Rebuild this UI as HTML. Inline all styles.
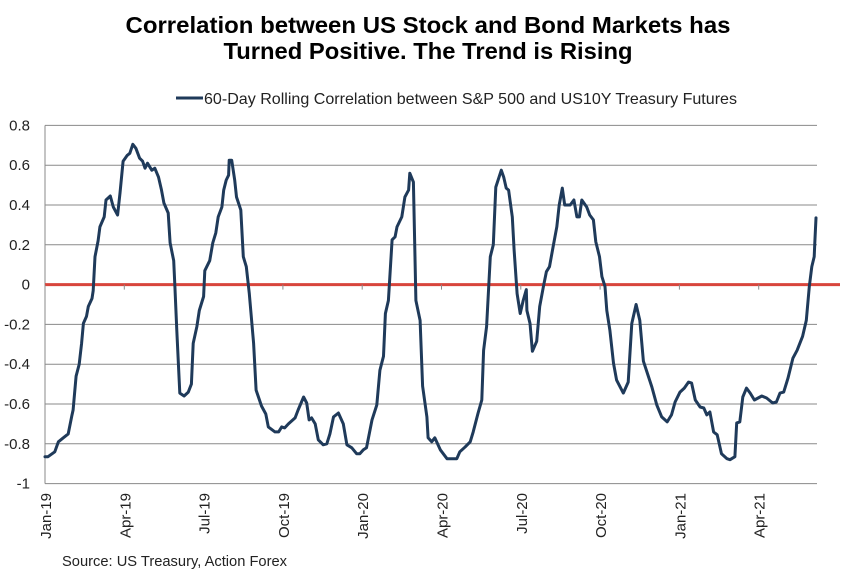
<!DOCTYPE html>
<html><head><meta charset="utf-8">
<style>
html,body{margin:0;padding:0;background:#fff;}
body{width:855px;height:576px;overflow:hidden;font-family:"Liberation Sans",Arial,sans-serif;}
svg text{font-family:"Liberation Sans",Arial,sans-serif;}
</style></head>
<body>
<svg id="chart" width="855" height="576" viewBox="0 0 855 576" xmlns="http://www.w3.org/2000/svg">
<text x="428" y="33" text-anchor="middle" font-size="23" font-weight="bold" fill="#000" textLength="605" lengthAdjust="spacingAndGlyphs">Correlation between US Stock and Bond Markets has</text>
<text x="428" y="59" text-anchor="middle" font-size="23" font-weight="bold" fill="#000" textLength="409" lengthAdjust="spacingAndGlyphs">Turned Positive. The Trend is Rising</text>
<g>
<line x1="176" y1="98" x2="203" y2="98" stroke="#1f3a5a" stroke-width="3"/>
<text x="204" y="104" font-size="16" fill="#222" textLength="533" lengthAdjust="spacingAndGlyphs">60-Day Rolling Correlation between S&amp;P 500 and US10Y Treasury Futures</text>
</g>
<g id="grid"></g>
<g id="axes"></g>
<g id="series"></g>
<text x="62" y="566" font-size="15" fill="#222" textLength="225" lengthAdjust="spacingAndGlyphs">Source: US Treasury, Action Forex</text>
</svg>
<script>
const yTicks = [0.8,0.6,0.4,0.2,0,-0.2,-0.4,-0.6,-0.8,-1];
const yTickLabels = ["0.8","0.6","0.4","0.2","0","-0.2","-0.4","-0.6","-0.8","-1"];
const xTickWeeks = [0,13,26,39,52,65,78,91,104,117];
const xTickLabels = ["Jan-19","Apr-19","Jul-19","Oct-19","Jan-20","Apr-20","Jul-20","Oct-20","Jan-21","Apr-21"];
const weeks = [0,0.5,1.6,2.2,3,3.8,4.4,4.6,5.1,5.6,6.0,6.3,6.8,7.1,7.7,7.9,8.2,8.7,9.0,9.7,10.0,10.7,11.2,11.9,12.3,12.8,13.5,13.9,14.4,14.9,15.5,16.0,16.4,16.8,17.5,18.0,18.6,19.1,19.5,20.2,20.5,21.1,21.3,21.6,22.1,22.8,23.5,24.0,24.3,24.9,25.3,26.0,26.2,27.0,27.5,28.0,28.4,29.0,29.3,29.7,30.1,30.2,30.6,31.1,31.4,32.1,32.5,33.0,33.5,34.2,34.6,35.5,36.2,36.6,37.7,38.3,38.8,39.3,39.9,41.0,41.5,42.4,42.9,43.3,43.7,44.3,44.8,45.6,46.2,46.7,47.3,48.1,48.9,49.5,50.3,51.1,51.6,52.2,52.7,53.6,54.4,54.9,55.5,55.8,56.3,56.9,57.4,57.7,58.5,59.0,59.6,59.8,60.4,60.8,61.5,61.9,62.6,62.8,63.4,63.9,64.8,65.9,67.5,68.0,68.9,69.7,70.2,71.0,71.6,71.9,72.4,73.0,73.5,73.9,74.8,75.2,75.6,76.0,76.6,76.9,77.4,77.9,78.4,78.9,79.0,79.5,79.9,80.6,81.1,81.7,82.2,82.7,83.3,83.9,84.3,84.8,85.2,86.1,86.7,87.2,87.6,88.0,88.8,89.3,89.9,90.3,90.9,91.3,91.8,92.1,92.6,93.2,93.7,94.3,94.8,95.6,96.2,96.9,97.5,98.1,98.9,99.5,100.3,101.1,102.0,102.7,103.3,104.1,104.8,105.5,106.0,106.6,107.4,108.0,108.5,109.0,109.6,110.2,110.9,111.8,112.3,113.1,113.4,113.9,114.4,115.0,115.6,116.3,116.9,117.5,118.3,119.3,119.9,120.5,121.1,121.8,122.6,123.3,124.2,124.8,125.3,125.7,126.1,126.2,126.4];
const corr = [-0.865,-0.865,-0.84,-0.79,-0.77,-0.75,-0.66,-0.63,-0.46,-0.40,-0.295,-0.195,-0.16,-0.11,-0.07,-0.03,0.14,0.22,0.29,0.34,0.425,0.445,0.39,0.35,0.46,0.62,0.65,0.66,0.705,0.685,0.635,0.62,0.585,0.61,0.575,0.585,0.54,0.475,0.41,0.36,0.21,0.12,-0.01,-0.23,-0.545,-0.56,-0.54,-0.50,-0.295,-0.21,-0.13,-0.06,0.07,0.12,0.21,0.26,0.34,0.39,0.475,0.525,0.55,0.625,0.625,0.525,0.44,0.375,0.14,0.09,-0.045,-0.295,-0.53,-0.61,-0.65,-0.715,-0.74,-0.74,-0.715,-0.72,-0.70,-0.67,-0.63,-0.565,-0.595,-0.68,-0.67,-0.70,-0.78,-0.805,-0.80,-0.75,-0.665,-0.645,-0.70,-0.805,-0.82,-0.85,-0.85,-0.83,-0.82,-0.68,-0.605,-0.43,-0.36,-0.145,-0.08,0.225,0.24,0.29,0.34,0.44,0.475,0.56,0.515,-0.08,-0.18,-0.51,-0.665,-0.77,-0.79,-0.77,-0.83,-0.875,-0.875,-0.84,-0.815,-0.79,-0.74,-0.645,-0.58,-0.33,-0.21,0.14,0.20,0.49,0.575,0.54,0.485,0.475,0.34,0.175,-0.045,-0.145,-0.08,-0.025,-0.13,-0.195,-0.335,-0.285,-0.11,-0.01,0.065,0.09,0.19,0.29,0.40,0.485,0.40,0.40,0.425,0.34,0.34,0.425,0.39,0.35,0.325,0.215,0.14,0.04,-0.01,-0.13,-0.23,-0.395,-0.48,-0.515,-0.545,-0.49,-0.195,-0.10,-0.18,-0.385,-0.46,-0.515,-0.605,-0.665,-0.69,-0.655,-0.59,-0.54,-0.52,-0.49,-0.495,-0.58,-0.615,-0.62,-0.655,-0.64,-0.74,-0.755,-0.85,-0.875,-0.88,-0.865,-0.695,-0.69,-0.565,-0.52,-0.545,-0.58,-0.57,-0.56,-0.57,-0.595,-0.59,-0.545,-0.54,-0.47,-0.37,-0.33,-0.26,-0.18,-0.01,0.09,0.14,0.21,0.335];

const NS='http://www.w3.org/2000/svg';
const X0=45, XW=6.1, YZ=284.6, YS=199, XR=817;
function xs(w){return X0+w*XW;}
function ys(v){return YZ-v*YS;}
function mk(tag,attrs,parent){const e=document.createElementNS(NS,tag);for(const k in attrs)e.setAttribute(k,attrs[k]);parent.appendChild(e);return e;}
const grid=document.getElementById('grid'), axes=document.getElementById('axes'), series=document.getElementById('series');
yTicks.forEach((v,i)=>{
  if(v!==0){
    const l=mk('line',{x1:X0,x2:XR,y1:ys(v),y2:ys(v),stroke:'#8a8a8a','stroke-width':1},grid);
    
    
  }
  const t=mk('text',{x:30,y:ys(v)+5,'text-anchor':'end','font-size':15,fill:'#222'},axes);
  t.textContent=yTickLabels[i];
  
  
});
const ya=mk('line',{x1:X0,x2:X0,y1:ys(0.8),y2:ys(-1),stroke:'#8a8a8a','stroke-width':1},axes);


const zl=mk('line',{x1:X0,x2:840,y1:YZ,y2:YZ,stroke:'#d8453c','stroke-width':3},axes);


xTickWeeks.forEach((w,i)=>{
  const x=xs(w);
  const tk=mk('line',{x1:x,x2:x,y1:YZ,y2:YZ+5,stroke:'#8a8a8a','stroke-width':1},axes);
  
  
  const t=mk('text',{x:0,y:0,'text-anchor':'end','font-size':15,fill:'#222',transform:`translate(${x+6},${493}) rotate(-90)`},axes);
  t.textContent=xTickLabels[i];
  
  
});
let d='';
weeks.forEach((w,i)=>{d+=(i?'L':'M')+xs(w).toFixed(1)+','+ys(corr[i]).toFixed(1);});
const p=mk('path',{d:d,fill:'none',stroke:'#1f3a5a','stroke-width':3,'stroke-linejoin':'round','stroke-linecap':'round'},series);


</script>
</body></html>
